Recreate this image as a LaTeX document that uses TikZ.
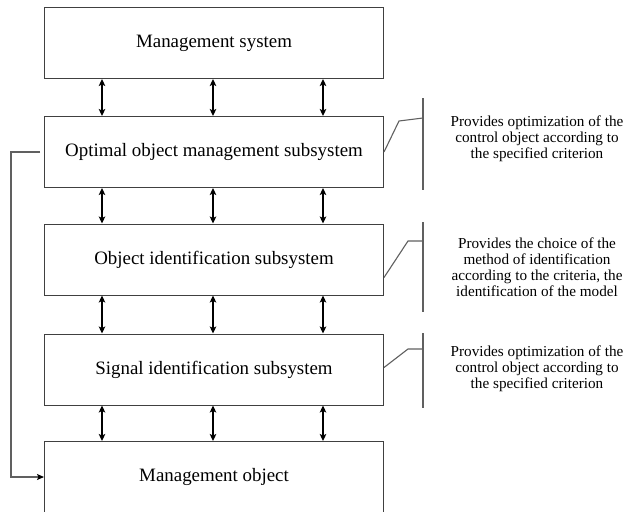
\documentclass[tikz,border=0pt]{standalone}
\usepackage{fontspec}
\setmainfont{Liberation Serif}
\usetikzlibrary{arrows.meta,calc}
\definecolor{boxgray}{HTML}{404040}
\definecolor{callgray}{HTML}{606060}
\begin{document}
\begin{tikzpicture}[x=1pt,y=-1pt,
  box/.style={draw=boxgray,line width=1pt,minimum width=339pt,minimum height=71pt,inner sep=0pt,font=\fontsize{18.9}{21}\selectfont},
  link/.style={{Stealth[length=7pt,width=6.5pt,inset=1.5pt]}-{Stealth[length=7pt,width=6.5pt,inset=1.5pt]},line width=1.4pt,black},
  feed/.style={draw=callgray,line width=1.1pt},
  callout/.style={draw=callgray,line width=1.1pt},
  note/.style={align=center,inner sep=0pt,font=\fontsize{15.2}{16}\selectfont}
]
\useasboundingbox (0,0) rectangle (628,511);
\clip (0,0) rectangle (628,511);
\fill[white] (0,0) rectangle (628,511);

\node[box] (b1) at (214,43) {Management system};
\node[box] (b2) at (214,152) {Optimal object management subsystem};
\node[box] (b3) at (214,259.5) {Object identification subsystem};
\node[box] (b4) at (214,369.5) {Signal identification subsystem};
\node[box] (b5) at (214,477) {Management object};

\foreach \x in {102,213,323}{
  \draw[link] (b1.south -| \x,0) -- (b2.north -| \x,0);
  \draw[link] (b2.south -| \x,0) -- (b3.north -| \x,0);
  \draw[link] (b3.south -| \x,0) -- (b4.north -| \x,0);
  \draw[link] (b4.south -| \x,0) -- (b5.north -| \x,0);
}

% feedback
\coordinate (fs) at ($(b2.west)+(-4,0)$);
\coordinate (fa) at (11,152);
\coordinate (fb) at (11,477);
\draw[feed,-{Stealth[length=7pt,width=6pt,inset=1.5pt,color=black]}] (fs) -- (fa) -- (fb) -- (b5.west);

% callouts
\coordinate (k1) at (399,121);
\coordinate (h1) at (423,118);
\coordinate (v1a) at (423,98);
\coordinate (v1b) at (423,190);
\draw[callout] (b2.east) -- (k1) -- (h1);
\draw[callout] (v1a) -- (v1b);
\node[note] (n1) at (537,139) {Provides optimization of the\\control object according to\\the specified criterion};

\coordinate (k2) at (408,241);
\coordinate (h2) at (423,241);
\coordinate (v2a) at (423,222);
\coordinate (v2b) at (423,312);
\draw[callout] ($(b3.east)+(0,18)$) -- (k2) -- (h2);
\draw[callout] (v2a) -- (v2b);
\node[note] (n2) at (537,267) {Provides the choice of the\\method of identification\\according to the criteria, the\\identification of the model};

\coordinate (k3) at (408,349);
\coordinate (h3) at (423,349);
\coordinate (v3a) at (423,333);
\coordinate (v3b) at (423,408);
\draw[callout] ($(b4.east)+(0,-2)$) -- (k3) -- (h3);
\draw[callout] (v3a) -- (v3b);
\node[note] (n3) at (537,369) {Provides optimization of the\\control object according to\\the specified criterion};
\end{tikzpicture}
\end{document}
